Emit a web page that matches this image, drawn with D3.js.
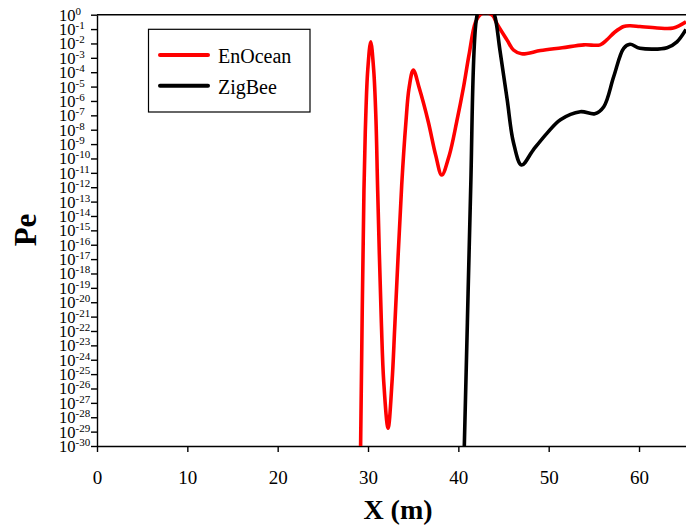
<!DOCTYPE html>
<html>
<head>
<meta charset="utf-8">
<script src="https://cdn.jsdelivr.net/npm/d3@7"></script>
<style>
  body { margin: 0; background: #fff; }
  svg { display: block; font-family: 'Liberation Serif', serif; }
  .axis path, .axis line { stroke: #000; stroke-width: 1.4; }
  .axis text { fill: #000; }
</style>
</head>
<body>
<div id="chart"></div>
<script>
// EnOcean curve, distance (m) and error probability
const enoceanX = [29.18, 29.55, 29.74, 29.97, 30.3, 30.63, 30.88, 31.07, 31.48, 31.74, 32.22, 32.66, 32.98, 33.73, 34.2, 34.54, 35.01, 35.68, 36.67, 37.49, 38.16, 39.0, 39.82, 40.55, 41.18, 41.9, 42.5, 43.1, 43.8, 44.25, 45.4, 46.1, 47.0, 49.1, 51.5, 53.9, 55.7, 56.4, 57.3, 58.3, 59.0, 60.1, 62.0, 63.8, 65.2]
const enoceanPe = [1e-30, 6e-13, 5e-8, 1.4e-4, 1.3e-2, 1.4e-4, 5e-8, 6e-13, 3.5e-22, 3e-26, 1.7e-29, 3e-26, 3.5e-22, 1.4e-12, 3.6e-8, 7.6e-6, 1.4e-4, 7.6e-6, 3.6e-8, 1.7e-10, 7e-12, 1.7e-10, 3.6e-8, 7.6e-6, 1.6e-3, 0.3, 1.1, 1.4, 0.9, 0.25, 1.7e-2, 3.5e-3, 1.9e-3, 3.2e-3, 5e-3, 8e-3, 8e-3, 1.7e-2, 6e-2, 0.15, 0.17, 0.15, 0.12, 0.12, 0.32]

// ZigBee curve
const zigbeeX = [40.66, 41.0, 41.36, 42.0, 42.5, 43.0, 43.5, 44.0, 44.6, 45.4, 46.1, 47.0, 48.3, 49.8, 51.3, 53.5, 55.1, 56.1, 57.2, 58.3, 59.0, 60.1, 63.1, 64.2, 65.2]
const zigbeePe = [1e-30, 4e-22, 6e-13, 0.5, 6, 10, 4, 1, 3.5e-3, 1.3e-6, 1.3e-9, 3.5e-11, 4e-10, 5.6e-9, 5e-8, 1.8e-7, 1.3e-7, 4e-7, 5e-5, 4.6e-3, 8.7e-3, 4.6e-3, 5.1e-3, 1.3e-2, 9.5e-2]

const xTicks = [0, 10, 20, 30, 40, 50, 60]
const yExponents = d3.range(0, -31, -1)
const seriesNames = ['EnOcean', 'ZigBee']
const seriesColors = ['#ff0000', '#000000']

const config = {
  width: 686,
  height: 528,
  margin: { top: 14.7, right: 0, bottom: 82, left: 97 }
}

const svg = d3.select('#chart')
  .append('svg')
    .attr('width', config.width)
    .attr('height', config.height)

const x = d3.scaleLinear()
  .domain([0, 65.2])
  .range([config.margin.left, config.width - config.margin.right])

const y = d3.scaleLog()
  .domain([1e-30, 1])
  .range([config.height - config.margin.bottom, config.margin.top])

svg.append('defs')
  .append('clipPath').attr('id', 'plot-clip')
  .append('rect')
    .attr('x', x.range()[0])
    .attr('y', y.range()[1])
    .attr('width', x.range()[1] - x.range()[0])
    .attr('height', y.range()[0] - y.range()[1])

// frame top line
svg.append('line')
  .attr('x1', x.range()[0]).attr('x2', x.range()[1])
  .attr('y1', y.range()[1]).attr('y2', y.range()[1])
  .attr('stroke', '#000').attr('stroke-width', 1.4)

// x axis
svg.append('g')
  .attr('class', 'axis x')
  .attr('transform', `translate(0, ${y.range()[0]})`)
  .call(d3.axisBottom(x).tickValues(xTicks).tickSize(6).tickSizeOuter(0))
  .call(g => g.selectAll('.tick text')
    .attr('y', 38).attr('dy', 0)
    .attr('font-size', 19)
    .attr('font-family', 'Liberation Serif'))

// y axis, labels as 10 with superscript exponent
svg.append('g')
  .attr('class', 'axis y')
  .attr('transform', `translate(${x.range()[0]}, 0)`)
  .call(d3.axisLeft(y).tickValues(yExponents.map(e => Math.pow(10, e))).tickSize(6).tickSizeOuter(0).tickFormat(''))
  .call(g => g.selectAll('.tick')
    .each(function(d, i) {
      const t = d3.select(this).select('text')
        .attr('x', -38).attr('dy', 0).attr('y', 5.5)
        .attr('text-anchor', 'start')
        .attr('font-family', 'Liberation Serif')
      t.append('tspan').attr('font-size', 16.5).text('10')
      t.append('tspan').attr('font-size', 11).attr('dy', -6).text(yExponents[i])
    }))

// axis titles
svg.append('text')
  .attr('x', 398).attr('y', 519)
  .attr('text-anchor', 'middle')
  .attr('font-size', 28).attr('font-weight', 'bold')
  .text('X (m)')

svg.append('text')
  .attr('transform', 'translate(36, 230) rotate(-90)')
  .attr('text-anchor', 'middle')
  .attr('font-size', 31).attr('font-weight', 'bold')
  .text('Pe')

// curves
const line = d3.line()
  .x(d => x(d[0]))
  .y(d => y(d[1]))
  .curve(d3.curveCatmullRom.alpha(0.5))

const series = [
  d3.zip(enoceanX, enoceanPe),
  d3.zip(zigbeeX, zigbeePe)
]

svg.append('g')
  .attr('clip-path', 'url(#plot-clip)')
  .selectAll('path')
  .data(series)
  .join('path')
    .attr('fill', 'none')
    .attr('stroke', (d, i) => seriesColors[i])
    .attr('stroke-width', 3.6)
    .attr('stroke-linejoin', 'round')
    .attr('d', line)

// legend
const legend = svg.append('g')
  .attr('class', 'legend')
  .attr('transform', 'translate(148.5, 29.3)')

legend.append('rect')
  .attr('width', 161.5).attr('height', 82.7)
  .attr('fill', '#fff').attr('stroke', '#000').attr('stroke-width', 1.2)

legend.selectAll('g')
  .data(seriesNames)
  .join('g')
    .attr('transform', (d, i) => `translate(0, ${25.7 + i * 30.7})`)
  .call(g => g.append('line')
    .attr('x1', 11.5).attr('x2', 59.5)
    .attr('stroke', (d, i) => seriesColors[i])
    .attr('stroke-width', 4)
    .attr('stroke-linecap', 'round'))
  .call(g => g.append('text')
    .attr('x', 69.5).attr('y', 8.3)
    .attr('font-size', 20)
    .text(d => d))
</script>
</body>
</html>
